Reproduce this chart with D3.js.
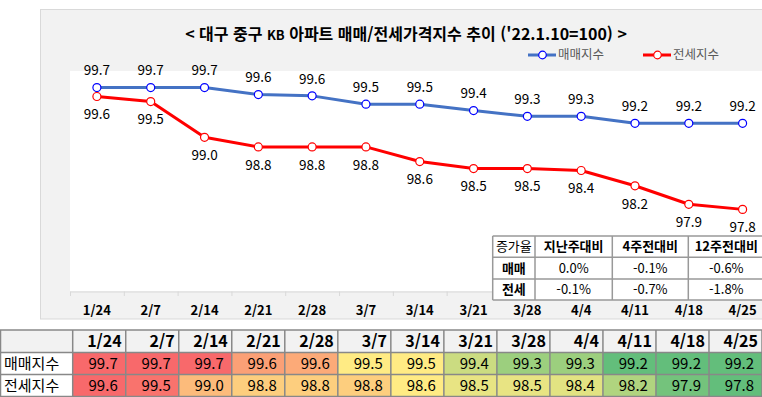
<!DOCTYPE html>
<html lang="ko">
<head>
  <meta charset="UTF-8">
  <title>대구 중구 KB 아파트 매매/전세가격지수 추이</title>
  <style>
    body { margin: 0; background: #fff; }
    svg { display: block; font-family: "Noto Sans CJK KR", "Noto Sans", sans-serif; }
  </style>
</head>
<body>

<svg width="762" height="397"></svg>

<script src="https://d3js.org/d3.v7.min.js"></script>
<script>

// chart data
let dates = ["1/24", "2/7", "2/14", "2/21", "2/28", "3/7", "3/14", "3/21", "3/28", "4/4", "4/11", "4/18", "4/25"];
let saleIdx = [99.74, 99.74, 99.74, 99.63, 99.61, 99.48, 99.48, 99.38, 99.29, 99.29, 99.18, 99.18, 99.18];
let jeonseIdx = [99.60, 99.52, 98.96, 98.81, 98.81, 98.81, 98.58, 98.47, 98.47, 98.44, 98.20, 97.91, 97.83];

// change rates (inset table)
let chgHeads = ["증가율", "지난주대비", "4주전대비", "12주전대비"];
let saleChg = [0.0, -0.1, -0.6];
let jeonseChg = [-0.1, -0.7, -1.8];

let seriesNames = ["매매지수", "전세지수"];

let svg = d3.select("svg");
let fmt = v => v.toFixed(1);

// chart panel
svg.append("rect")
    .attr("x", 40.5).attr("y", 9.5)
    .attr("width", 740).attr("height", 309.5)
    .attr("fill", "#f2f2f2").attr("stroke", "#d9d9d9");

svg.append("rect")
    .attr("x", 70).attr("y", 71)
    .attr("width", 700).attr("height", 220)
    .attr("fill", "#fff");

let x = d3.scaleBand().domain(dates).range([70, 769.5]);
let y = d3.scaleLinear().domain([96.55, 100]).range([291, 71]);
let cx = d => x(d) + x.bandwidth() / 2;

// x axis
let xAxis = svg.append("g")
    .attr("transform", "translate(0,291.5)")
    .call(d3.axisBottom(x).tickSize(0).tickPadding(14));
xAxis.select(".domain").attr("stroke", "#d9d9d9");
xAxis.selectAll("text")
    .attr("font-size", 13).attr("font-weight", "bold")
    .attr("fill", "#000")
    .style("font-family", "'Noto Sans CJK KR', sans-serif");

svg.append("g").selectAll("line")
    .data(dates)
    .enter().append("line")
    .attr("x1", d => x(d) + 0.5).attr("x2", d => x(d) + 0.5)
    .attr("y1", 291.5).attr("y2", 296)
    .attr("stroke", "#d9d9d9");

// lines
let series = [
  { vals: saleIdx, line: "#4472c4", mark: "#0000ff", dy: -17 },
  { vals: jeonseIdx, line: "#ff0000", mark: "#ff0000", dy: 18 }
];

let line = d3.line()
    .x((d, i) => cx(dates[i]))
    .y(d => y(d));

series.forEach(s => {
  svg.append("path")
      .datum(s.vals)
      .attr("d", line)
      .attr("fill", "none")
      .attr("stroke", s.line)
      .attr("stroke-width", 3)
      .attr("stroke-linejoin", "round");

  svg.append("g").selectAll("circle")
      .data(s.vals)
      .enter().append("circle")
      .attr("cx", (d, i) => cx(dates[i]))
      .attr("cy", d => y(d))
      .attr("r", 4)
      .attr("fill", "#fff")
      .attr("stroke", s.mark)
      .attr("stroke-width", 1.2);

  svg.append("g").selectAll("text")
      .data(s.vals)
      .enter().append("text")
      .attr("x", (d, i) => cx(dates[i]))
      .attr("y", d => y(d) + s.dy)
      .attr("dy", "0.35em")
      .attr("text-anchor", "middle")
      .attr("font-size", 13.5)
      .attr("fill", "#000")
      .text(d => fmt(d));
});

// title
let title = svg.append("text")
    .attr("x", 406).attr("y", 34)
    .attr("dy", "0.35em")
    .attr("text-anchor", "middle")
    .attr("font-size", 16).attr("font-weight", "bold")
    .attr("fill", "#000");
title.append("tspan").text("< 대구 중구 ");
title.append("tspan").attr("font-size", 13).text("KB");
title.append("tspan").text(" 아파트 매매/전세가격지수 추이 ('22.1.10=100)  >");

// legend
let legendX = [528, 643];
series.forEach((s, i) => {
  let g = svg.append("g").attr("transform", `translate(${legendX[i]},55)`);
  g.append("line").attr("x1", 0).attr("x2", 28)
      .attr("stroke", s.line).attr("stroke-width", 3);
  g.append("circle").attr("cx", 14.5).attr("r", 3.8)
      .attr("fill", "#fff").attr("stroke", s.mark).attr("stroke-width", 1.2);
  g.append("text").attr("x", 30).attr("dy", "0.35em")
      .attr("font-size", 12.5).attr("fill", "#595959")
      .text(seriesNames[i]);
});

// inset change table
let insCols = [492.7, 535, 612.3, 688.3, 764.3];
let insRows = [236, 257.3, 279, 300];
let insG = svg.append("g");
insG.append("rect")
    .attr("x", insCols[0]).attr("y", insRows[0])
    .attr("width", insCols[4] - insCols[0]).attr("height", insRows[3] - insRows[0])
    .attr("fill", "#fff");

let insData = [
  chgHeads,
  ["매매"].concat(saleChg.map(v => v.toFixed(1) + "%")),
  ["전세"].concat(jeonseChg.map(v => v.toFixed(1) + "%"))
];
insData.forEach((row, r) => {
  row.forEach((txt, c) => {
    let bold = (r == 0 && c > 0) || (r > 0 && c == 0);
    insG.append("text")
        .attr("x", (insCols[c] + insCols[c + 1]) / 2)
        .attr("y", (insRows[r] + insRows[r + 1]) / 2)
        .attr("dy", "0.35em")
        .attr("text-anchor", "middle")
        .attr("font-size", 13)
        .attr("font-weight", bold ? "bold" : "normal")
        .attr("fill", "#000")
        .text(txt);
  });
});
insRows.forEach(ry => {
  insG.append("line").attr("x1", insCols[0]).attr("x2", insCols[4])
      .attr("y1", ry).attr("y2", ry).attr("stroke", "#999").attr("stroke-width", 1.5);
});
insCols.forEach(cxp => {
  insG.append("line").attr("x1", cxp).attr("x2", cxp)
      .attr("y1", insRows[0]).attr("y2", insRows[3]).attr("stroke", "#999").attr("stroke-width", 1.5);
});

// bottom data table
let tx = d3.scaleBand().domain(dates).range([72.7, 762]);
let tRows = [330, 352.5, 374.5, 396.5];
let tb = svg.append("g");

tb.append("rect").attr("x", 0).attr("y", tRows[0])
    .attr("width", 762).attr("height", tRows[1] - tRows[0]).attr("fill", "#f2f2f2");

tb.selectAll(".hd")
    .data(dates)
    .enter().append("text")
    .attr("x", d => tx(d) + tx.bandwidth() - 4)
    .attr("y", (tRows[0] + tRows[1]) / 2)
    .attr("dy", "0.36em")
    .attr("text-anchor", "end")
    .attr("font-size", 16).attr("font-weight", "bold")
    .attr("fill", "#000")
    .text(d => d);

let tableRows = [saleIdx, jeonseIdx];
tableRows.forEach((vals, r) => {
  let sorted = vals.slice().sort(d3.ascending);
  let color = d3.scaleLinear()
      .domain([d3.min(vals), d3.quantile(sorted, 0.5), d3.max(vals)])
      .range(["#63be7b", "#ffeb84", "#f8696b"]);
  let y0 = tRows[r + 1], h = tRows[r + 2] - tRows[r + 1];

  tb.append("g").selectAll("rect")
      .data(vals)
      .enter().append("rect")
      .attr("x", (d, i) => tx(dates[i]))
      .attr("y", y0)
      .attr("width", tx.bandwidth()).attr("height", h)
      .attr("fill", d => color(d));

  tb.append("g").selectAll("text")
      .data(vals)
      .enter().append("text")
      .attr("x", (d, i) => tx(dates[i]) + tx.bandwidth() - 8)
      .attr("y", y0 + h / 2)
      .attr("dy", "0.36em")
      .attr("text-anchor", "end")
      .attr("font-size", 15)
      .attr("fill", "#000")
      .text(d => fmt(d));

  tb.append("text")
      .attr("x", 4).attr("y", y0 + h / 2)
      .attr("dy", "0.36em")
      .attr("font-size", 15)
      .attr("fill", "#000")
      .text(seriesNames[r]);
});

// table grid
tRows.forEach(ry => {
  tb.append("line").attr("x1", 0).attr("x2", 762)
      .attr("y1", ry).attr("y2", ry).attr("stroke", "#888").attr("stroke-width", 1.5);
});
[0.5, 72.7].concat(dates.map(d => tx(d) + tx.bandwidth())).forEach(vx => {
  tb.append("line").attr("x1", vx).attr("x2", vx)
      .attr("y1", tRows[0]).attr("y2", tRows[3]).attr("stroke", "#888").attr("stroke-width", 1.5);
});

</script>

</body>
</html>
